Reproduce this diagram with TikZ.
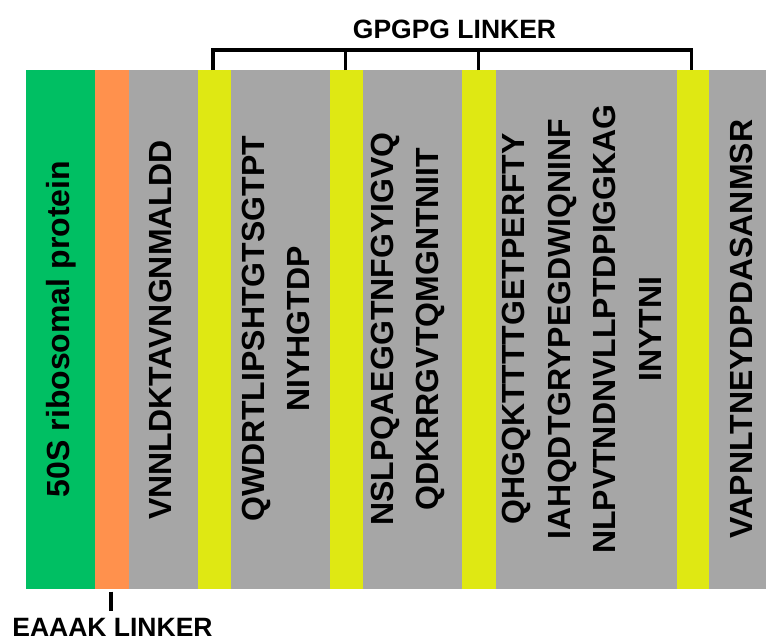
\documentclass[tikz,border=0pt]{standalone}
\usepackage{fontspec}
\setmainfont{Liberation Sans}
\usetikzlibrary{calc}
\definecolor{segGreen}{RGB}{0,191,99}
\definecolor{segOrange}{RGB}{255,145,77}
\definecolor{segGray}{RGB}{166,166,166}
\definecolor{segYellow}{RGB}{223,232,19}
\tikzset{
  seg/.style={rectangle, anchor=north west, inner sep=0pt, outer sep=0pt, minimum height=519pt, draw=none},
  seqtext/.style={rotate=90, inner sep=0pt, font=\fontsize{32}{45.5}\selectfont\bfseries, align=center, text=black},
  lbltext/.style={inner sep=0pt, font=\fontsize{26.5}{30}\selectfont\bfseries, text=black},
  bracket/.style={line width=3.8pt, line join=miter, black},
}
\begin{document}
\begin{tikzpicture}[x=1pt,y=-1pt]
\useasboundingbox (0,0) rectangle (766,641);
% segments
\node[seg, fill=segGreen,  minimum width=69pt]   (green)  at (26,70) {};
\node[seg, fill=segOrange, minimum width=33.5pt] (orange) at (95,70) {};
\node[seg, fill=segGray,   minimum width=69.5pt] (g1)     at (128.5,70) {};
\node[seg, fill=segYellow, minimum width=33pt]   (y1)     at (198,70) {};
\node[seg, fill=segGray,   minimum width=99pt]   (g2)     at (231,70) {};
\node[seg, fill=segYellow, minimum width=33pt]   (y2)     at (330,70) {};
\node[seg, fill=segGray,   minimum width=99pt]   (g3)     at (363,70) {};
\node[seg, fill=segYellow, minimum width=34pt]   (y3)     at (462,70) {};
\node[seg, fill=segGray,   minimum width=181pt]  (g4)     at (496,70) {};
\node[seg, fill=segYellow, minimum width=32pt]   (y4)     at (677,70) {};
\node[seg, fill=segGray,   minimum width=57pt]   (g5)     at (709,70) {};
% texts
\node[seqtext, anchor=base] (t0) at (69.5,329) {50S ribosomal protein};
\node[seqtext, anchor=base] (t1) at (171.7,330) {VNNLDKTAVNGNMALDD};
\node[seqtext] (t2) at (276,329) {QWDRTLIPSHTGTSGTPT\\NIYHGTDP};
\node[seqtext] (t3) at (408,329) {NSLPQAEGGTNFGYIGVQ\\QDKRRGVTQMGNTNIIT};
\node[seqtext] (t4) at (582,329) {QHGQKTTTTGETPERFTY\\IAHQDTGRYPEGDWIQNINF\\NLPVTNDNVLLPTDPIGGKAG\\INYTNI};
\node[seqtext, anchor=base] (t5) at (752,329) {VAPNLTNEYDPDASANMSR};
% labels
\node[lbltext, anchor=base] (gpg) at (454.5,38) {GPGPG LINKER};
\node[lbltext, anchor=base] (eak) at (112.5,636) {EAAAK LINKER};
% bracket
\coordinate (top) at (0,50);
\draw[bracket] ([xshift=-1.5pt]y1.north) -- ([xshift=-1.5pt]y1.north |- top) -- ([xshift=-1.5pt]y4.north |- top) -- ([xshift=-1.5pt]y4.north);
\draw[bracket] ([xshift=-1pt]y2.north) -- ([xshift=-1pt]y2.north |- top);
\draw[bracket] ([xshift=-0.5pt]y3.north) -- ([xshift=-0.5pt]y3.north |- top);
% EAAAK tick
\draw[line width=4pt] ([xshift=-0.7pt,yshift=-2.5pt]orange.south) -- ([xshift=-0.7pt,yshift=-22pt]orange.south);
\end{tikzpicture}
\end{document}
